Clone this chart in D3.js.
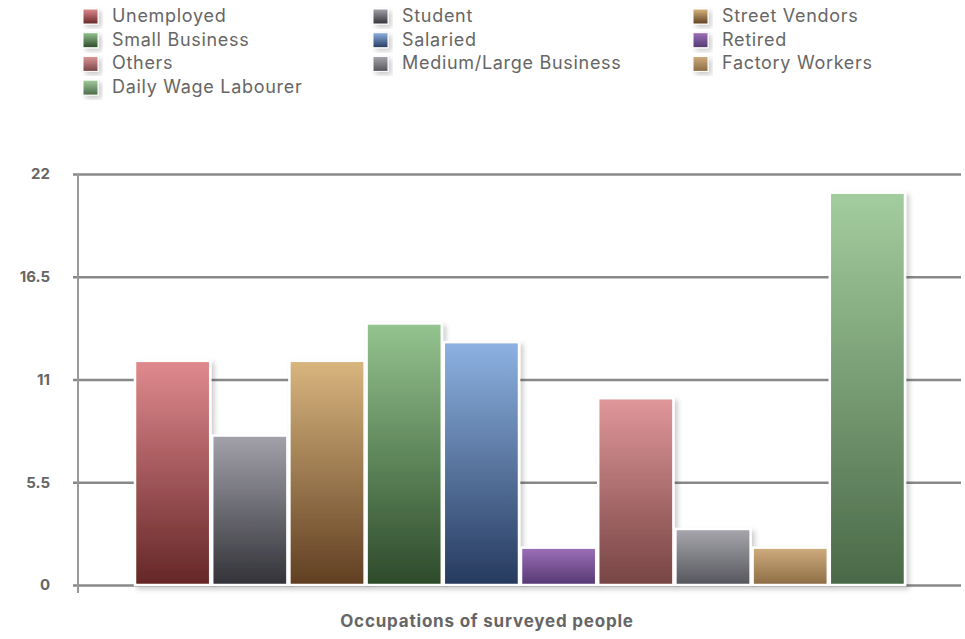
<!DOCTYPE html>
<html><head><meta charset="utf-8">
<script src="https://cdn.jsdelivr.net/npm/d3@7"></script>
<style>body{margin:0;background:#fff;}svg{display:block;font-family:Inter,"Open Sans",sans-serif;}</style>
</head><body>
<svg id="c" width="965" height="639"></svg>
<script>
const categories = ["Unemployed","Student","Street Vendors","Small Business","Salaried","Retired","Others","Medium/Large Business","Factory Workers","Daily Wage Labourer"];
const values = [12, 8, 12, 14, 13, 2, 10, 3, 2, 21];
const topColors = ["#e08a8e","#a3a2ab","#d9b57e","#94c48f","#8db2e2","#9d70b9","#e0979a","#a8a7ae","#d0ad7e","#a4cd9f"];
const bottomColors = ["#652626","#323238","#603f22","#2d4a2a","#263a5e","#553872","#774444","#55555c","#8c6c45","#4a6947"];
const yTicks = [0, 5.5, 11, 16.5, 22];
const xTitle = "Occupations of surveyed people";

const svg = d3.select("#c");
const defs = svg.append("defs");
categories.forEach((c,i)=>{
  const g = defs.append("linearGradient").attr("id","g"+i).attr("x1",0).attr("y1",0).attr("x2",0).attr("y2",1);
  g.append("stop").attr("offset","0%").attr("stop-color",topColors[i]);
  g.append("stop").attr("offset","100%").attr("stop-color",bottomColors[i]);
});
const f = defs.append("filter").attr("id","sh").attr("x","-20%").attr("y","-20%").attr("width","150%").attr("height","150%");
f.append("feDropShadow").attr("dx",3).attr("dy",3).attr("stdDeviation",2.5).attr("flood-color","#000").attr("flood-opacity",0.2);

const y = d3.scaleLinear().domain([0,22]).range([585,174]);
const x = d3.scaleBand().domain(categories).range([134,906]).padding(0);

// gridlines
const grid = svg.append("g").attr("transform","translate(73,0)")
  .call(d3.axisLeft(y).tickValues(yTicks).tickSize(-888).tickFormat(""));
grid.select(".domain").remove();
grid.selectAll("line").attr("stroke","#888").attr("stroke-width",2.5);

// y axis
const ya = svg.append("g").attr("transform","translate(78,0)")
  .call(d3.axisLeft(y).tickValues(yTicks).tickSize(0).tickPadding(28).tickFormat(d=>String(d)));
ya.select(".domain").remove();
ya.selectAll("text").attr("fill","#666").attr("font-size",15).attr("font-weight",700).attr("font-family","Inter, sans-serif");
svg.append("line").attr("x1",78).attr("x2",78).attr("y1",y(22)).attr("y2",y(0)+8).attr("stroke","#999").attr("stroke-width",2);

// bars
svg.append("g").selectAll("rect").data(values).join("rect")
  .attr("x",(d,i)=>x(categories[i])+1)
  .attr("width",x.bandwidth()-2)
  .attr("y",d=>y(d))
  .attr("height",d=>y(0)-y(d))
  .attr("fill",(d,i)=>`url(#g${i})`)
  .attr("stroke","#fff").attr("stroke-width",2.5)
  .attr("filter","url(#sh)");

// x title
svg.append("text").attr("x",487).attr("y",627).attr("text-anchor","middle")
  .attr("fill","#666").attr("font-size",17).attr("letter-spacing",0.8).attr("font-weight",700).text(xTitle);

// legend
const colX = [83, 373, 693];
const legend = svg.append("g");
categories.forEach((c,i)=>{
  const col = i%3, row = Math.floor(i/3);
  const gx = colX[col], gy = 16 + row*23.7;
  legend.append("rect").attr("x",gx).attr("y",gy-7).attr("width",15).attr("height",15)
    .attr("fill",`url(#g${i})`).attr("stroke","#fff").attr("stroke-width",1).attr("filter","url(#sh)");
  legend.append("text").attr("x",gx+29).attr("y",gy+6).attr("fill","#666").attr("font-size",18).attr("letter-spacing",0.7).text(c);
});
</script>
</body></html>
